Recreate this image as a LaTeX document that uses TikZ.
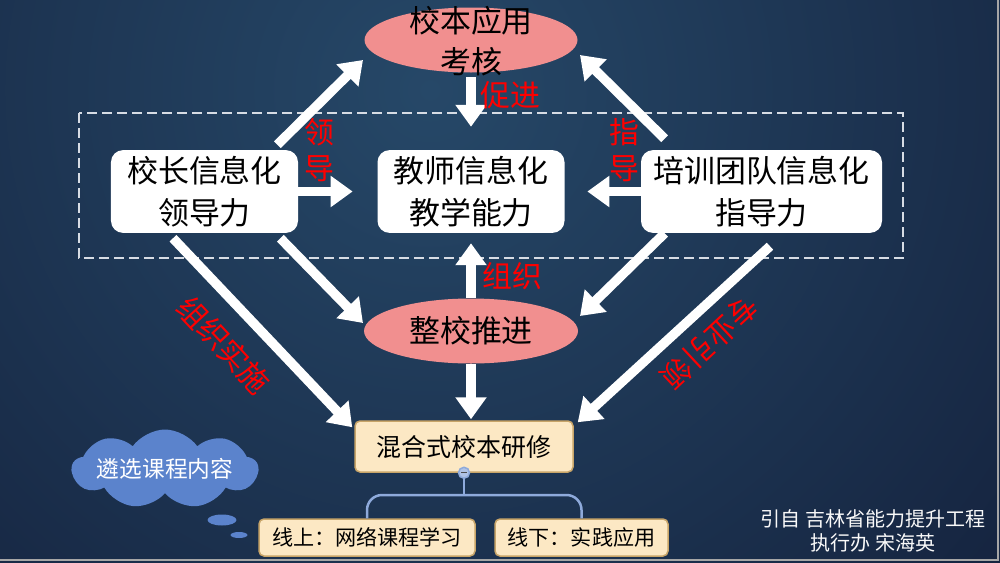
\documentclass[tikz,border=0pt]{standalone}
\usepackage{fontspec}
\newfontfamily\cjk{Noto Sans CJK SC}
\usepackage{xcolor}
\usepackage{tikz}
\usetikzlibrary{shapes.geometric, shapes.symbols, arrows.meta, positioning, calc}

\definecolor{bglight}{RGB}{38,72,104}
\definecolor{bgdark}{RGB}{19,31,58}
\definecolor{ellpink}{RGB}{241,143,143}
\definecolor{cream}{RGB}{252,232,196}
\definecolor{boxtan}{RGB}{200,165,105}
\definecolor{cloudblue}{RGB}{91,131,204}
\definecolor{treeblue}{RGB}{142,170,219}
\definecolor{dashgray}{RGB}{215,220,228}

\begin{document}
\begin{tikzpicture}[x=0.2mm, y=-0.2mm,
    every node/.style={font=\cjk},
    infobox/.style={rectangle, fill=white, rounded corners=2.4mm, minimum width=37.4mm, minimum height=15.4mm, align=center, font=\cjk\fontsize{17.6}{24}\selectfont},
    goalell/.style={ellipse, fill=ellpink, minimum width=42.6mm, minimum height=13mm, inner sep=0pt},
    goaltext/.style={align=center, font=\cjk\fontsize{17.6}{23.5}\selectfont},
    bigarrow/.style={-{Triangle[length=4.4mm, width=6mm]}, line width=1.9mm, white},
    redlabel/.style={text=red, align=center, inner sep=0pt, font=\cjk\fontsize{17}{20.5}\selectfont},
    courseblock/.style={rectangle, fill=cream, draw=boxtan, line width=0.3mm, rounded corners=1mm, font=\cjk\fontsize{12}{14}\selectfont},
    treeline/.style={draw=treeblue, line width=0.5mm, rounded corners=3mm}
]
\useasboundingbox (0,0) rectangle (1000,562);

% background
\begin{scope}
\clip (0,0) rectangle (1000,562);
\fill[bgdark] (0,0) rectangle (1000,562);
\shade[inner color=bglight, outer color=bgdark] (430,90) circle (170mm);
\end{scope}
\draw[gray!70, line width=0.3mm] (0,560) -- (998,560) -- (998,0);

\draw[dashgray, line width=0.3mm, dash pattern=on 2mm off 1mm] (79,113) rectangle (903,258);

% main nodes
\node[goalell] (apply) at (471,40) {};
\node[goaltext] (applytxt) at (471,41) {校本应用\\考核};

\node[infobox] (lead) at (204.5,191.5) {校长信息化\\领导力};
\node[infobox] (teach) at (471,191.5) {教师信息化\\教学能力};
\node[infobox, minimum width=48.2mm] (train) at (761.5,191.5) {培训团队信息化\\指导力};

\node[goalell, minimum width=42.8mm] (push) at (471,331) {};
\node[goaltext] (pushtxt) at (push) {整校推进};

\node[courseblock, minimum width=43.6mm, minimum height=10.2mm, font=\cjk\fontsize{14.2}{16}\selectfont] (blend) at (464,446.5) {混合式校本研修};
\node[courseblock, minimum width=43.2mm, minimum height=7.4mm] (online) at (367,537.5) {线上：网络课程学习};
\node[courseblock, minimum width=34.6mm, minimum height=7.4mm] (offline) at (581.5,537.5) {线下：实践应用};

% tree under the course box
\coordinate (fork) at (464,495);
\draw[treeline] (blend.south) -- (fork);
\draw[treeline] (online.north) |- (fork) -| (offline.north);
\node[circle, fill=treeblue!70!white, draw=treeblue, line width=0.3mm, minimum size=2.2mm, inner sep=0pt] (knob) at (blend.south) {};
\draw[gray!60!black, line width=0.25mm] ([xshift=-0.6mm]knob.center) -- ([xshift=0.6mm]knob.center);

% cloud
\node[cloud, cloud puffs=9, cloud puff arc=110, aspect=2.4, fill=cloudblue, minimum width=37.2mm, minimum height=15.8mm] (cloud) at (165,469) {};
\node[text=white, font=\cjk\fontsize{12.9}{15}\selectfont] (cloudtxt) at (cloud) {遴选课程内容};
\node[ellipse, fill=cloudblue, minimum width=5.8mm, minimum height=2.2mm, inner sep=0pt] (bubble1) at (222,520) {};
\node[ellipse, fill=cloudblue, minimum width=3.4mm, minimum height=1.2mm, inner sep=0pt] (bubble2) at (239,535) {};

% arrows
\draw[bigarrow] ($(lead.north east)+(-21,-5)$) -- ($(apply.center)+(-108,20)$);
\draw[bigarrow] ($(train.north west)+(24,-11)$) -- ($(apply.center)+(109,15)$);
\draw[bigarrow, shorten <=0.9mm, shorten >=4.6mm] (apply) -- (teach);
\draw[bigarrow, shorten >=4.9mm] (lead) -- (teach);
\draw[bigarrow, shorten >=4.5mm] (train) -- (teach);
\draw[bigarrow, shorten >=2mm] (push) -- (teach);
\draw[bigarrow] ($(lead.south east)+(-18,5)$) -- ($(push.center)+(-108,-8)$);
\draw[bigarrow] ($(train.south west)+(24,0)$) -- ($(push.center)+(109,-15)$);
\draw[bigarrow] ($(lead.south)+(-31.5,5)$) -- ($(blend.north west)+(-2,7)$);
\draw[bigarrow] ($(train.south)+(8.5,13)$) -- ($(blend.north east)+(4,2)$);
\draw[bigarrow, shorten >=0.2mm] (push.south) -- (push.south |- blend.north);

% red labels
\node[redlabel] (promote) at (510,95) {促进};
\node[redlabel] (leadlbl) at (319,150) {领\\导};
\node[redlabel] (guidelbl) at (624,150) {指\\导};
\node[redlabel] (orglbl) at (512,276) {组织};
\node[redlabel, rotate=-47] (implbl) at (224,345) {组织实施};
\node[redlabel, rotate=223] (prolbl) at (710,342) {专业引领};

% source note
\node[text=white!95!gray, align=center, font=\cjk\fontsize{11.4}{13.6}\selectfont] (credit) at (873,531) {引自 吉林省能力提升工程\\执行办 宋海英};

\end{tikzpicture}
\end{document}
